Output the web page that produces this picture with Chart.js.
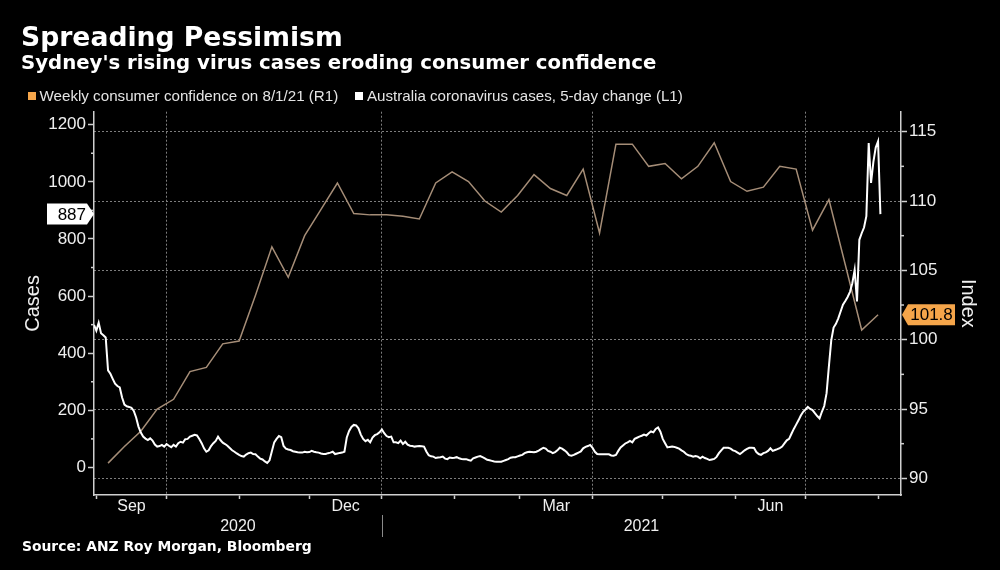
<!DOCTYPE html>
<html><head><meta charset="utf-8">
<script src="https://cdn.jsdelivr.net/npm/chart.js"></script>
<style>
html,body{margin:0;padding:0;background:#000;}
#wrap{position:relative;width:1000px;height:570px;overflow:hidden;background:#000;}
#chartBox{position:absolute;left:0;top:0;width:1000px;height:570px;}
.txt{position:absolute;white-space:nowrap;line-height:1;color:#fff;font-size:20px;}
.bold{font-family:"DejaVu Sans",sans-serif;font-weight:bold;}
.leg{font-family:"Liberation Sans",Arial,sans-serif;color:#e4e4e4;}
.sq{position:absolute;width:8px;height:8px;}
</style></head><body>
<div id="wrap">
  <div id="chartBox"><canvas id="c"></canvas></div>
  <div class="txt bold" data-w="322" data-x="21" data-b="46.7">Spreading Pessimism</div>
  <div class="txt bold" data-w="636" data-x="21" data-b="70">Sydney's rising virus cases eroding consumer confidence</div>
  <div class="sq" style="left:28px;top:92px;background:#f5a54a"></div>
  <div class="txt leg" data-w="299" data-x="39.5" data-b="101">Weekly consumer confidence on 8/1/21 (R1)</div>
  <div class="sq" style="left:355px;top:92px;background:#ffffff"></div>
  <div class="txt leg" data-w="316" data-x="367" data-b="101">Australia coronavirus cases, 5-day change (L1)</div>
  <div class="txt bold" data-w="290" data-x="22" data-b="551.5">Source: ANZ Roy Morgan, Bloomberg</div>
</div>
<script>
// ---------------- DATA ----------------
const caseStart = '2020-08-31';   // first daily value of the cases series
const cases = [
  499, 479, 507, 470, 463, 455, 340, 328, 310, 293,
  285, 280, 245, 220, 214, 212, 209, 198, 175, 143,
  122, 108, 101, 96, 102, 94, 80, 73, 75, 79,
  73, 82, 76, 71, 79, 73, 85, 90, 87, 99,
  100, 108, 111, 114, 112, 100, 85, 67, 55, 60,
  75, 85, 93, 108, 96, 87, 82, 76, 68, 60,
  55, 49, 44, 40, 38, 45, 50, 52, 47, 46,
  38, 31, 28, 21, 16, 25, 57, 88, 100, 110,
  106, 75, 66, 63, 61, 57, 55, 53, 52, 52,
  55, 53, 54, 58, 55, 53, 52, 49, 47, 47,
  50, 52, 55, 47, 49, 51, 52, 55, 105, 128,
  142, 149, 147, 137, 115, 100, 92, 97, 88, 105,
  113, 117, 123, 133, 120, 110, 106, 108, 88, 88,
  85, 94, 82, 90, 80, 76, 75, 73, 74, 75,
  74, 73, 56, 43, 39, 38, 33, 35, 36, 38,
  31, 29, 35, 33, 34, 36, 32, 30, 29, 29,
  26, 24, 32, 35, 38, 40, 36, 32, 27, 25,
  23, 21, 20, 20, 20, 23, 26, 29, 34, 36,
  36, 39, 42, 44, 50, 53, 55, 54, 53, 55,
  59, 64, 69, 66, 58, 55, 50, 54, 60, 69,
  66, 60, 53, 43, 41, 44, 48, 52, 56, 67,
  72, 75, 79, 69, 55, 47, 46, 46, 46, 46,
  46, 42, 41, 44, 58, 70, 77, 84, 88, 93,
  88, 100, 104, 108, 111, 115, 112, 120, 126, 123,
  135, 140, 125, 100, 85, 70, 72, 73, 72, 69,
  66, 60, 55, 47, 43, 41, 38, 40, 38, 32,
  38, 33, 30, 26, 28, 30, 37, 50, 60, 69,
  69, 69, 66, 60, 57, 52, 47, 53, 60, 65,
  69, 69, 68, 54, 47, 44, 50, 53, 58, 67,
  58, 61, 64, 68, 73, 84, 95, 100, 118, 135,
  150, 165, 182, 195, 203, 212, 205, 201, 190, 180,
  172, 195, 215, 260, 355, 445, 490, 503, 522, 546,
  570, 583, 597, 615, 645, 692, 581, 797, 820, 840,
  880, 1136, 996, 1070, 1120, 1142, 887
];
const confidenceDates = [
  '2020-09-06','2020-09-13','2020-09-20','2020-09-27','2020-10-04','2020-10-11','2020-10-18','2020-10-25',
  '2020-11-01','2020-11-08','2020-11-15','2020-11-22','2020-11-29','2020-12-06','2020-12-13','2020-12-20',
  '2020-12-27','2021-01-03','2021-01-10','2021-01-17','2021-01-24','2021-01-31','2021-02-07','2021-02-14',
  '2021-02-21','2021-02-28','2021-03-07','2021-03-14','2021-03-21','2021-03-28','2021-04-04','2021-04-11',
  '2021-04-18','2021-04-25','2021-05-02','2021-05-09','2021-05-16','2021-05-23','2021-05-30','2021-06-06',
  '2021-06-13','2021-06-20','2021-06-27','2021-07-04','2021-07-11','2021-07-18','2021-07-25','2021-08-01'
];
const confidence = [
  91.1, 92.3, 93.4, 95.0, 95.7, 97.7, 98.0, 99.7,
  99.9, 103.2, 106.7, 104.5, 107.5, 109.4, 111.3, 109.1,
  109.0, 109.0, 108.9, 108.7, 111.3, 112.1, 111.4, 110.0,
  109.2, 110.4, 111.9, 110.9, 110.4, 112.3, 107.7, 114.1,
  114.1, 112.5, 112.7, 111.6, 112.5, 114.2, 111.4, 110.7,
  111.0, 112.5, 112.3, 107.9, 110.1, 105.4, 100.7, 101.8
];
const leftTicks = [0, 200, 400, 600, 800, 1000, 1200];
const leftMinorTicks = [100, 300, 500, 700, 900, 1100];
const rightTicks = [90, 95, 100, 105, 110, 115];
const rightMinorTicks = [92.5, 97.5, 102.5, 107.5, 112.5];
const monthLabels = ['Sep', 'Dec', 'Mar', 'Jun'];
const monthLabelStarts = ['2020-09-01', '2020-12-01', '2021-03-01', '2021-06-01'];
const yearLabels = ['2020', '2021'];
const yearBoundary = '2021-01-01';
const gridMonths = ['2020-10-01', '2021-01-01', '2021-04-01', '2021-07-01'];
const firstMonth = '2020-09-01', lastMonth = '2021-08-01';

// ---------------- HELPERS ----------------
const DAY0 = Date.parse('2020-09-01T00:00:00Z');
const dayOf = s => (Date.parse(s + 'T00:00:00Z') - DAY0) / 86400000;
const xMin = -1.0, xMax = 343.8;

// text fitting for HTML titles / legend
document.querySelectorAll('.txt[data-w]').forEach(el => {
  const w = el.getBoundingClientRect().width;
  const F = 20 * (+el.dataset.w) / w;
  el.style.fontSize = F + 'px';
  el.style.left = el.dataset.x + 'px';
  el.style.top = (+el.dataset.b - 0.846 * F) + 'px';
});

// x ticks
const monthStarts = [];
{
  let d = new Date(firstMonth + 'T00:00:00Z');
  const end = Date.parse(lastMonth + 'T00:00:00Z');
  while (d.getTime() <= end) {
    monthStarts.push((d.getTime() - DAY0) / 86400000);
    d = new Date(Date.UTC(d.getUTCFullYear(), d.getUTCMonth() + 1, 1));
  }
}
const monthSet = new Set(monthStarts);
const gridSet = new Set(gridMonths.map(dayOf));
const xLabelMap = new Map();
monthLabelStarts.forEach((s, i) => {
  const d = new Date(s + 'T00:00:00Z');
  const next = (Date.UTC(d.getUTCFullYear(), d.getUTCMonth() + 1, 1) - DAY0) / 86400000;
  xLabelMap.set((dayOf(s) + next) / 2, monthLabels[i]);
});
const yb = dayOf(yearBoundary);
xLabelMap.set((xMin + yb) / 2, ['', yearLabels[0]]);
xLabelMap.set((yb + xMax) / 2, ['', yearLabels[1]]);
const xTickValues = [...monthStarts, ...xLabelMap.keys()].sort((a, b) => a - b);

const FAM = '"Liberation Sans", Arial, sans-serif';
const AXIS = '#cfcfcf', GRID = '#7d7d7d', TXT = '#efefef';

const overlay = {
  id: 'overlay',
  afterDraw(chart) {
    const ctx = chart.ctx;
    const yl = chart.scales.yL, yr = chart.scales.yR, x = chart.scales.x;
    ctx.save();
    // minor ticks
    ctx.strokeStyle = AXIS; ctx.lineWidth = 1.5;
    leftMinorTicks.forEach(v => {
      const y = yl.getPixelForValue(v);
      ctx.beginPath(); ctx.moveTo(yl.right, y); ctx.lineTo(yl.right - 3, y); ctx.stroke();
    });
    rightMinorTicks.forEach(v => {
      const y = yr.getPixelForValue(v);
      ctx.beginPath(); ctx.moveTo(yr.left, y); ctx.lineTo(yr.left + 3, y); ctx.stroke();
    });
    // year separator
    const sx = Math.round(x.getPixelForValue(yb)) + 0.5;
    ctx.strokeStyle = '#8a8a8a'; ctx.lineWidth = 1;
    ctx.beginPath(); ctx.moveTo(sx, 515); ctx.lineTo(sx, 537); ctx.stroke();
    // last value label, cases (left)
    const lc = cases[cases.length - 1];
    let cy = yl.getPixelForValue(lc);
    ctx.fillStyle = '#ffffff';
    ctx.beginPath();
    ctx.moveTo(47, cy - 10.5); ctx.lineTo(87, cy - 10.5); ctx.lineTo(yl.right, cy);
    ctx.lineTo(87, cy + 10.5); ctx.lineTo(47, cy + 10.5); ctx.closePath(); ctx.fill();
    ctx.fillStyle = '#000'; ctx.font = '17px ' + FAM; ctx.textBaseline = 'middle';
    ctx.textAlign = 'right'; ctx.fillText(String(lc), 86, cy + 1);
    // last value label, confidence (right)
    const lf = confidence[confidence.length - 1];
    cy = yr.getPixelForValue(lf);
    ctx.fillStyle = '#f5a54a';
    ctx.beginPath();
    ctx.moveTo(yr.left + 1, cy); ctx.lineTo(908, cy - 10.5); ctx.lineTo(955, cy - 10.5);
    ctx.lineTo(955, cy + 10.5); ctx.lineTo(908, cy + 10.5); ctx.closePath(); ctx.fill();
    ctx.fillStyle = '#000'; ctx.textAlign = 'center';
    ctx.fillText(lf.toFixed(1), 931.5, cy + 1);
    ctx.restore();
  }
};

new Chart(document.getElementById('c'), {
  type: 'line',
  data: {
    datasets: [
      {
        label: 'Weekly consumer confidence on 8/1/21 (R1)',
        data: confidence.map((v, i) => ({x: dayOf(confidenceDates[i]), y: v})),
        yAxisID: 'yR', borderColor: '#a58d77', borderWidth: 1.5,
        pointRadius: 0, tension: 0, order: 1
      },
      {
        label: 'Australia coronavirus cases, 5-day change (L1)',
        data: cases.map((v, i) => ({x: dayOf(caseStart) + i, y: v})),
        yAxisID: 'yL', borderColor: '#ffffff', borderWidth: 2,
        pointRadius: 0, tension: 0, order: 0
      }
    ]
  },
  options: {
    responsive: true, maintainAspectRatio: false, animation: false,
    layout: {padding: {top: 111.7, left: 0, right: 0, bottom: 0}},
    plugins: {legend: {display: false}, tooltip: {enabled: false}},
    scales: {
      x: {
        type: 'linear', position: 'bottom', min: xMin, max: xMax,
        afterBuildTicks: s => { s.ticks = xTickValues.map(v => ({value: v})); },
        afterFit: s => { s.height = 75; },
        ticks: {
          autoSkip: false, maxRotation: 0, minRotation: 0, color: TXT, padding: -2.5,
          font: {family: FAM, size: 16, lineHeight: 1.25},
          callback: v => xLabelMap.has(v) ? xLabelMap.get(v) : ''
        },
        grid: {
          drawOnChartArea: true, drawTicks: true, tickLength: 4, lineWidth: 1, tickWidth: 1.5,
          color: c => (c.tick && gridSet.has(c.tick.value)) ? GRID : 'transparent',
          tickColor: c => (c.tick && monthSet.has(c.tick.value)) ? AXIS : 'transparent',
          tickBorderDash: []
        },
        border: {display: true, color: AXIS, width: 1.5, dash: [2, 2]}
      },
      yL: {
        type: 'linear', position: 'left', min: -96.4, max: 1245.5,
        afterBuildTicks: s => { s.ticks = leftTicks.map(v => ({value: v})); },
        afterFit: s => { s.width = 94; },
        ticks: {color: TXT, padding: 2, font: {family: FAM, size: 17}, callback: v => String(v)},
        grid: {drawOnChartArea: false, drawTicks: true, tickLength: 6, tickColor: AXIS, tickWidth: 1.5},
        border: {display: true, color: AXIS, width: 1.5},
        title: {display: true, text: 'Cases', color: TXT, font: {family: FAM, size: 20}, padding: {top: 21, bottom: 0}}
      },
      yR: {
        type: 'linear', position: 'right', min: 88.8, max: 116.44,
        afterBuildTicks: s => { s.ticks = rightTicks.map(v => ({value: v})); },
        afterFit: s => { s.width = 99; },
        ticks: {color: TXT, padding: 2, font: {family: FAM, size: 17}, callback: v => String(v)},
        grid: {drawOnChartArea: true, drawTicks: true, tickLength: 6, color: GRID, lineWidth: 1,
               tickColor: AXIS, tickWidth: 1.5, tickBorderDash: []},
        border: {display: true, color: AXIS, width: 1.5, dash: [2, 2]},
        title: {display: true, text: 'Index', color: TXT, font: {family: FAM, size: 20}, padding: {top: 20, bottom: 0}}
      }
    }
  },
  plugins: [overlay]
});
</script>
</body></html>
